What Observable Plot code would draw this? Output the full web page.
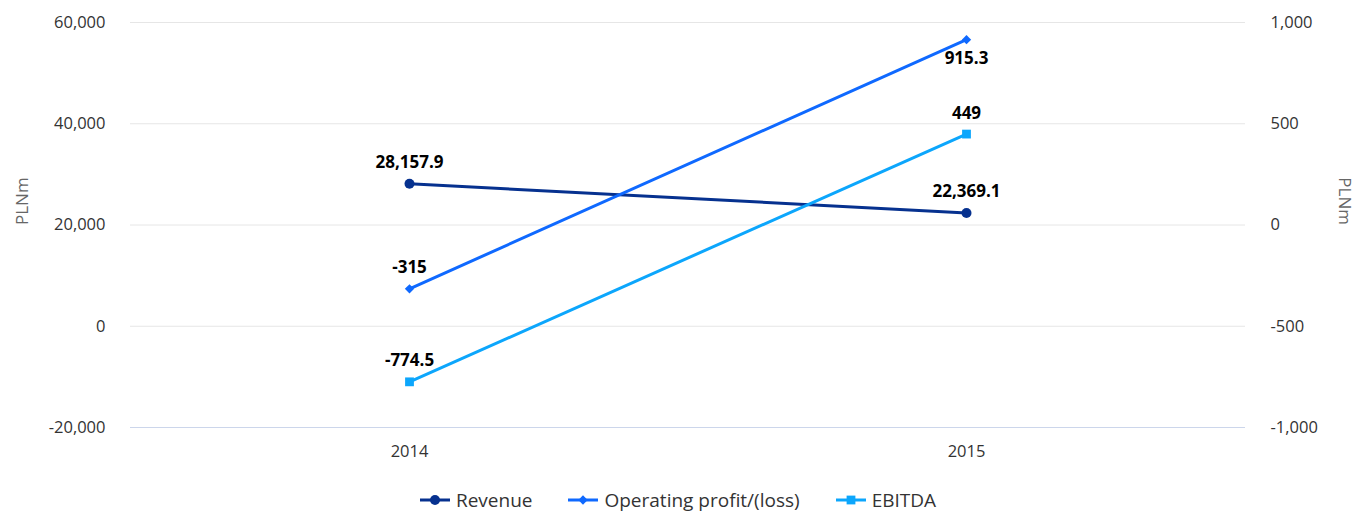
<!DOCTYPE html>
<html><head><meta charset="utf-8">
<script src="https://cdn.jsdelivr.net/npm/d3@7"></script>
<script src="https://cdn.jsdelivr.net/npm/@observablehq/plot@0.6"></script>
<style>
body{margin:0;background:#fff;font-family:"Open Sans",sans-serif;}
#legend{display:flex;justify-content:center;gap:36px;font-size:19px;color:#333;height:40px;align-items:center;margin-top:0px;padding-left:0px;}
.li{display:flex;align-items:center;gap:6px;}
</style></head>
<body><div id="chart"></div><div id="legend"></div>
<script>
const years = ["2014", "2015"];
const revenue = [28157.9, 22369.1];
const operatingProfit = [-315, 915.3];
const ebitda = [-774.5, 449];
const leftTicks = [-20000, 0, 20000, 40000, 60000];
const rightTicks = [-1000, -500, 0, 500, 1000];
const seriesNames = ["Revenue", "Operating profit/(loss)", "EBITDA"];
const colors = ["#06318f", "#0f69ff", "#0ca6fc"];
const symbols = ["circle", "diamond2", "square2"];
const radii = [5, 4.2, 5.6];

// right axis mapped onto left scale
const rMin = rightTicks[0], rMax = rightTicks[rightTicks.length-1];
const lMin = leftTicks[0], lMax = leftTicks[leftTicks.length-1];
const toLeft = v => lMin + (v - rMin) / (rMax - rMin) * (lMax - lMin);
const toRight = v => rMin + (v - lMin) / (lMax - lMin) * (rMax - rMin);

const rows = [];
[revenue, operatingProfit, ebitda].forEach((arr, s) => {
  arr.forEach((v, i) => rows.push({series: seriesNames[s], year: years[i], value: v, y: s === 0 ? v : toLeft(v), s}));
});
const labelBelow = r => r.series === "Operating profit/(loss)" && r.year === "2015";
const fmt = d3.formatLocale({decimal: ".", thousands: ",", grouping: [3], currency: ["", ""], minus: "-"}).format(",");

const chart = Plot.plot({
  width: 1356, height: 480,
  marginLeft: 130, marginRight: 111, marginTop: 22, marginBottom: 53,
  style: {fontFamily: "'Open Sans', sans-serif", fontSize: "16.5px", color: "#333", background: "#fff"},
  x: {type: "point", domain: years, padding: 0.5, label: null},
  y: {domain: [lMin, lMax], label: null},
  marks: [
    Plot.ruleY(leftTicks.slice(1), {stroke: "#e6e6e6", strokeWidth: 1}),
    Plot.ruleY([lMin], {stroke: "#ccd6eb", strokeWidth: 1}),
    Plot.axisX({tickSize: 0, tickPadding: 18, fontSize: 16.5, fill: "#333"}),
    Plot.axisY({ticks: leftTicks, tickSize: 0, tickPadding: 25, tickFormat: fmt, fontSize: 16.5, fill: "#333", label: null}),
    Plot.axisY({anchor: "right", ticks: leftTicks, tickSize: 0, tickPadding: 25, tickFormat: d => fmt(toRight(d)), fontSize: 16.5, fill: "#333", textAnchor: "start", label: null}),
    Plot.line(rows, {x: "year", y: "y", z: "series", stroke: d => colors[d.s], strokeWidth: 3}),
    ...[0, 1, 2].map(s => Plot.dot(rows.filter(d => d.s === s), {x: "year", y: "y", symbol: symbols[s], fill: colors[s], r: radii[s], stroke: null})),
    Plot.text(rows, {x: "year", y: "y", text: d => fmt(d.value), fontWeight: "bold", fontSize: 17, fill: "#000",
      dy: -21, filter: d => !labelBelow(d)}),
    Plot.text(rows, {x: "year", y: "y", text: d => fmt(d.value), fontWeight: "bold", fontSize: 17, fill: "#000",
      dy: 19, filter: d => labelBelow(d)}),
    Plot.text(["PLNm"], {frameAnchor: "left", dx: -108, rotate: -90, fontSize: 17, fill: "#666"}),
    Plot.text(["PLNm"], {frameAnchor: "right", dx: 99, rotate: 90, fontSize: 17, fill: "#666"})
  ]
});
chart.setAttribute("color", null);
document.getElementById("chart").appendChild(chart);

const lg = document.getElementById("legend");
seriesNames.forEach((n, i) => {
  const it = document.createElement("div"); it.className = "li";
  const sw = d3.create("svg").attr("width", 30).attr("height", 14);
  sw.append("line").attr("x1", 0).attr("x2", 30).attr("y1", 7).attr("y2", 7).attr("stroke", colors[i]).attr("stroke-width", 3);
  sw.append("path").attr("transform", "translate(15,7)").attr("d", d3.symbol(i === 0 ? d3.symbolCircle : i === 1 ? d3.symbolDiamond2 : d3.symbolSquare2, Math.PI * radii[i] * radii[i])()).attr("fill", colors[i]);
  it.appendChild(sw.node());
  const t = document.createElement("span"); t.textContent = n; it.appendChild(t);
  lg.appendChild(it);
});
</script></body></html>
